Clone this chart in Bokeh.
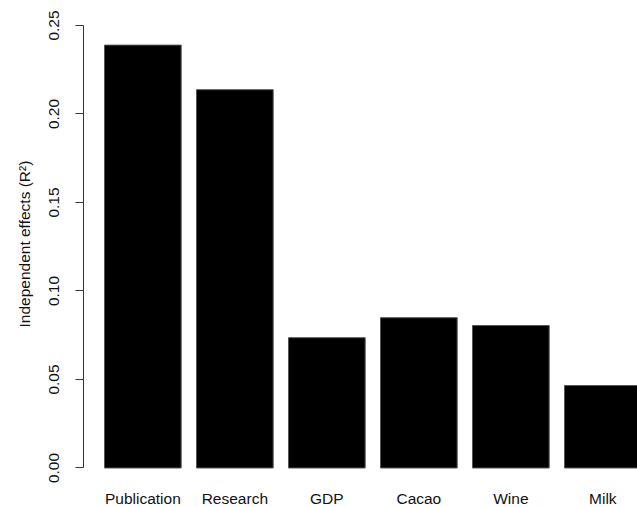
import math
from bokeh.plotting import figure
from bokeh.models import FixedTicker, LinearAxis, Title, Range1d
from bokeh.embed import file_html
from bokeh.resources import INLINE

categories = ["Publication", "Research", "GDP", "Cacao", "Wine", "Milk"]
values = [0.2389, 0.2137, 0.0736, 0.0849, 0.0805, 0.0466]
y_ticks = [0.0, 0.05, 0.10, 0.15, 0.20, 0.25]
y_tick_labels = ["0.00", "0.05", "0.10", "0.15", "0.20", "0.25"]

bar_width = 1.0
space = 0.2
centers = [space * (i + 1) + bar_width * i + bar_width / 2 for i in range(len(categories))]

FONT = "Liberation Sans"

p = figure(frame_width=554, frame_height=477, output_backend="svg", toolbar_location=None,
           x_range=Range1d(-0.074, 7.152), y_range=Range1d(-0.00537, 0.2641),
           x_axis_location=None, y_axis_location=None,
           min_border_left=83, min_border_right=0, min_border_top=0, min_border_bottom=30)
p.outline_line_color = None
p.grid.visible = False
p.background_fill_color = "white"
p.border_fill_color = "white"

p.vbar(x=centers, top=values, bottom=0, width=bar_width, fill_color="black",
       line_color="#555555", line_width=1)

yaxis = LinearAxis(ticker=FixedTicker(ticks=y_ticks), bounds=(0, 0.25),
                   major_label_overrides={t: s for t, s in zip(y_ticks, y_tick_labels)})
yaxis.axis_line_color = "#333333"
yaxis.major_tick_line_color = "#333333"
yaxis.major_tick_out = 8
yaxis.major_tick_in = 0
yaxis.minor_tick_out = 0
yaxis.minor_tick_in = 0
yaxis.major_label_orientation = "vertical"
yaxis.major_label_standoff = 16
yaxis.major_label_text_font = FONT
yaxis.major_label_text_font_size = "15.5px"
yaxis.major_label_text_color = "#111111"
p.add_layout(yaxis, "left")

xaxis = LinearAxis(ticker=FixedTicker(ticks=centers),
                   major_label_overrides={c: s for c, s in zip(centers, categories)})
xaxis.axis_line_color = None
xaxis.major_tick_line_color = None
xaxis.minor_tick_line_color = None
xaxis.major_tick_out = 0
xaxis.major_tick_in = 0
xaxis.major_label_standoff = 12
xaxis.major_label_text_font = FONT
xaxis.major_label_text_font_size = "15.5px"
xaxis.major_label_text_color = "#111111"
p.add_layout(xaxis, "below")

ylab = Title(text="Independent effects (R²)", align="left", offset=150,
             vertical_align="top", standoff=23, text_font=FONT, text_font_size="15.5px",
             text_font_style="normal", text_color="#111111")
p.add_layout(ylab, "left")

open("out.html", "w").write(file_html(p, INLINE))
